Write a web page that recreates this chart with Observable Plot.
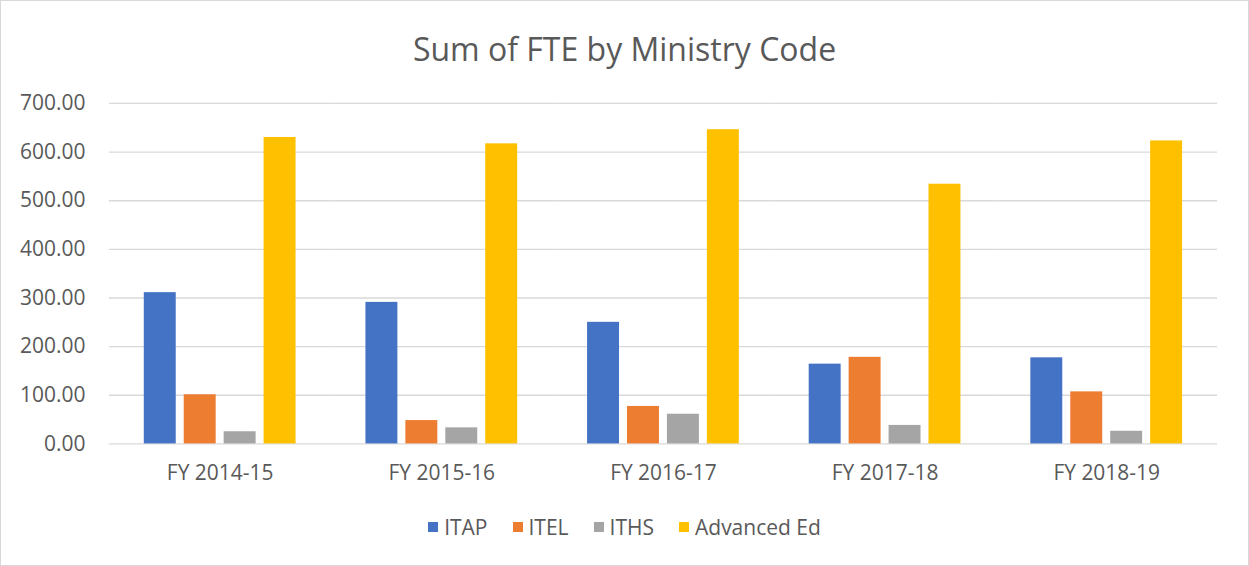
<!DOCTYPE html>
<html>
<head>
<meta charset="utf-8">
<script src="https://cdn.jsdelivr.net/npm/d3@7"></script>
<script src="https://cdn.jsdelivr.net/npm/@observablehq/plot@0.6"></script>
<style>
  html, body { margin: 0; padding: 0; background: #fff; }
  #frame {
    position: absolute; left: 0; top: 0; width: 1249px; height: 566px;
    box-sizing: border-box; border: 1px solid #d9d9d9; background: #fff;
    font-family: "Open Sans", sans-serif; color: #595959;
  }
  #title {
    position: absolute; left: 0; top: 26px; width: 100%; text-align: center;
    font-size: 32px; line-height: 44px; color: #595959;
  }
  #chart { position: absolute; left: 0; top: 80px; }
  #legend {
    position: absolute; left: 0; top: 511px; width: 100%;
    display: flex; justify-content: center; align-items: center;
    font-size: 21px; line-height: 30px; gap: 25px;
  }
  .item { display: flex; align-items: center; gap: 6px; }
  .sw { width: 10px; height: 10px; display: inline-block; }
</style>
</head>
<body>
<div id="frame">
  <div id="title">Sum of FTE by Ministry Code</div>
  <div id="chart"></div>
  <div id="legend"></div>
</div>
<script>
const categories = ["FY 2014-15", "FY 2015-16", "FY 2016-17", "FY 2017-18", "FY 2018-19"];
const series = ["ITAP", "ITEL", "ITHS", "Advanced Ed"];
const colors = ["#4472C4", "#ED7D31", "#A5A5A5", "#FFC000"];
const itap  = [311, 291, 250, 164, 177];
const itel  = [101, 48, 77, 178, 107];
const iths  = [25, 33, 61, 38, 26];
const advEd = [630, 617, 646, 534, 623];
const yTicks = [0, 100, 200, 300, 400, 500, 600, 700];

const valuesBySeries = [itap, itel, iths, advEd];
const data = [];
categories.forEach((c, i) => {
  series.forEach((s, j) => data.push({cat: c, series: s, value: valuesBySeries[j][i]}));
});

const chart = Plot.plot({
  width: 1249,
  height: 420,
  marginLeft: 107,
  marginRight: 30,
  marginTop: 22,
  marginBottom: 57,
  style: {fontFamily: "'Open Sans', sans-serif", fontSize: "21px", color: "#595959", background: "transparent"},
  fx: {domain: categories, paddingInner: 0, paddingOuter: 0, label: null, axis: "bottom", tickSize: 0, tickPadding: 21},
  x: {domain: series, paddingInner: 0.21, paddingOuter: 0.85, axis: null},
  y: {domain: [0, 700], ticks: 7, tickFormat: d3.format(".2f"), tickSize: 0, tickPadding: 24, label: null},
  color: {domain: series, range: colors},
  marks: [
    Plot.ruleY(yTicks, {stroke: "#d9d9d9", strokeWidth: 1.3}),
    Plot.barY(data, {fx: "cat", x: "series", y: "value", fill: "series"})
  ]
});
document.getElementById("chart").appendChild(chart);

const legend = document.getElementById("legend");
series.forEach((s, j) => {
  const it = document.createElement("div");
  it.className = "item";
  const sw = document.createElement("span");
  sw.className = "sw";
  sw.style.background = colors[j];
  const t = document.createElement("span");
  t.textContent = s;
  it.appendChild(sw); it.appendChild(t);
  legend.appendChild(it);
});
</script>
</body>
</html>
